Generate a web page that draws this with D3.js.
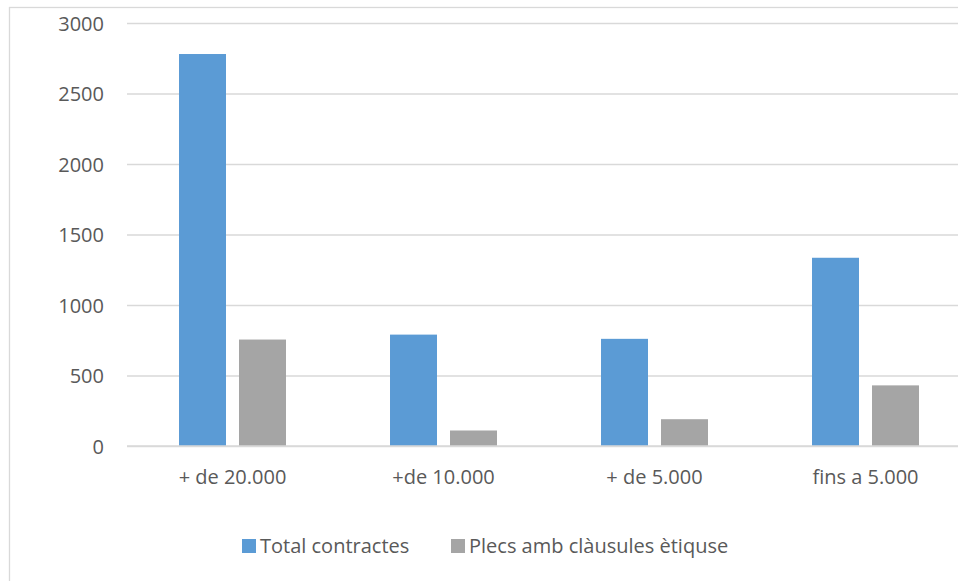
<!DOCTYPE html>
<html>
<head>
<meta charset="utf-8">
<script src="https://cdn.jsdelivr.net/npm/d3@7"></script>
<style>
  html, body { margin: 0; padding: 0; background: #fff; }
  svg { display: block; }
  text { font-family: "Open Sans", sans-serif; fill: #595959; }
</style>
</head>
<body>
<svg id="chart" width="958" height="581"></svg>
<script>
// Contract counts by amount bracket
const categories = ["+ de 20.000", "+de 10.000", "+ de 5.000", "fins a 5.000"];
const seriesNames = ["Total contractes", "Plecs amb clàusules ètiquse"];
const totalContractes = [2780, 790, 760, 1335];
const plecsClausules = [755, 110, 190, 430];
const yTicks = [0, 500, 1000, 1500, 2000, 2500, 3000];
const colors = ["#5b9bd5", "#a5a5a5"];

const seriesValues = [totalContractes, plecsClausules];
const rows = categories.map((c, i) => ({
  cat: c,
  vals: seriesNames.map((s, j) => ({ key: s, value: seriesValues[j][i], color: colors[j] }))
}));

const svg = d3.select("#chart");

// chart frame
svg.append("rect")
  .attr("x", 9.5).attr("y", 7.5)
  .attr("width", 1200).attr("height", 1200)
  .attr("fill", "none").attr("stroke", "#d9d9d9").attr("stroke-width", 1.3);

const plot = { left: 127, right: 971, top: 23, bottom: 446 };

const x0 = d3.scaleBand()
  .domain(categories)
  .range([plot.left, plot.right])
  .paddingInner(0.493)
  .paddingOuter(0.2465);

const x1 = d3.scaleBand()
  .domain(seriesNames)
  .range([0, x0.bandwidth()])
  .paddingInner(0.2167)
  .paddingOuter(0);

const y = d3.scaleLinear()
  .domain([0, 3000])
  .range([plot.bottom, plot.top]);

// horizontal gridlines
const yAxis = d3.axisLeft(y)
  .tickValues(yTicks)
  .tickSize(-(plot.right - plot.left))
  .tickPadding(23)
  .tickFormat(d3.format("d"));

const gy = svg.append("g")
  .attr("transform", `translate(${plot.left},0)`)
  .call(yAxis);
gy.select(".domain").remove();
gy.selectAll(".tick line").attr("stroke", "#d9d9d9").attr("stroke-width", 1.3);
gy.selectAll(".tick text")
  .attr("fill", "#595959")
  .style("font-size", "20px")
  .attr("dy", "0.35em");

// bars
const groups = svg.append("g")
  .selectAll("g")
  .data(rows)
  .join("g")
  .attr("transform", d => `translate(${x0(d.cat)},0)`);

groups.selectAll("rect")
  .data(d => d.vals)
  .join("rect")
  .attr("x", d => x1(d.key))
  .attr("width", x1.bandwidth())
  .attr("y", d => y(d.value))
  .attr("height", d => y(0) - y(d.value))
  .attr("fill", d => d.color);

// baseline
svg.append("line")
  .attr("x1", plot.left).attr("x2", plot.right)
  .attr("y1", y(0)).attr("y2", y(0))
  .attr("stroke", "#d9d9d9").attr("stroke-width", 1.3);

// category axis labels
const xAxis = d3.axisBottom(x0).tickSize(0).tickPadding(24);
const gx = svg.append("g")
  .attr("transform", `translate(0,${plot.bottom})`)
  .call(xAxis);
gx.select(".domain").remove();
gx.selectAll(".tick text")
  .attr("fill", "#595959")
  .style("font-size", "20px");

// legend
const legendItems = [
  { key: seriesNames[0], color: colors[0], x: 242 },
  { key: seriesNames[1], color: colors[1], x: 451 }
];
const legend = svg.append("g").selectAll("g")
  .data(legendItems)
  .join("g")
  .attr("transform", d => `translate(${d.x},539)`);
legend.append("rect")
  .attr("width", 14).attr("height", 14)
  .attr("fill", d => d.color);
legend.append("text")
  .attr("x", 18).attr("y", 14)
  .style("font-size", "20px")
  .text(d => d.key);
</script>
</body>
</html>
